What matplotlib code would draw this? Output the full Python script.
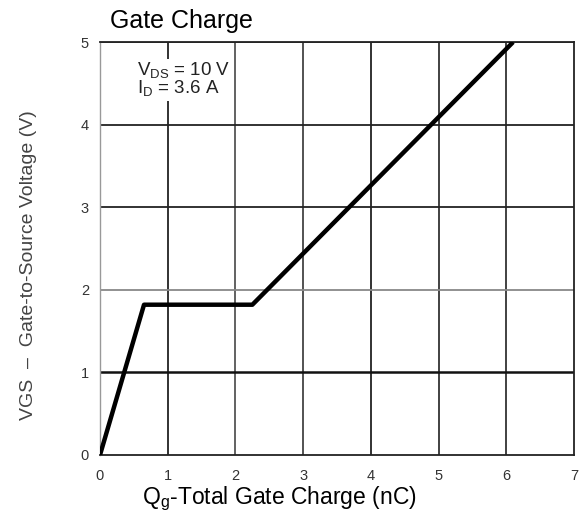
import numpy as np
import matplotlib.pyplot as plt

plt.rc('font', family='Liberation Sans')

# curve breakpoints
qg = [0.0, 0.65, 2.25, 6.1]
vgs = [0.0, 1.82, 1.82, 5.0]

xticks = [0, 1, 2, 3, 4, 5, 6, 7]
yticks = [0, 1, 2, 3, 4, 5]
# grid lines are printed with uneven darkness in the original
xgrid_col = ['#333333', '#222222', '#555555', '#444444', '#222222', '#333333', '#333333']
ygrid_col = ['#111111', '#111111', '#888888', '#222222', '#222222', '#333333']

fig = plt.figure(figsize=(5.79, 5.2), dpi=100)
ax = fig.add_axes([0.1727, 0.125, 0.8187, 0.794])

for x, c in zip(xticks[1:], xgrid_col[1:]):
    ax.axvline(x, color=c, lw=1.3, zorder=1)
for y, c in zip(yticks[1:], ygrid_col[1:]):
    ax.axhline(y, color=c, lw=1.3 if y != 1 else 1.8, zorder=1)

ax.plot(qg, vgs, color='black', lw=3.2, solid_capstyle='butt', zorder=3)

ax.set_xlim(0, 7)
ax.set_ylim(0, 5)
ax.set_xticks(xticks)
ax.set_yticks(yticks)
ax.tick_params(length=0, labelsize=10.5, labelcolor='#333333')
ax.tick_params(axis='x', pad=10)
ax.tick_params(axis='y', pad=8)
for s in ax.spines.values():
    s.set_color('#222222')
    s.set_linewidth(1.3)
ax.spines['left'].set_color('#999999')
ax.spines['left'].set_linewidth(1.0)

ax.text(0.55, 4.78, 'V$_{\\mathregular{DS}}$ = 10 V\nI$_{\\mathregular{D}}$ = 3.6 A',
        fontsize=13.5, color='#222222', va='top', ha='left', linespacing=0.9,
        bbox=dict(facecolor='white', edgecolor='none', pad=1), zorder=4)

fig.text(0.19, 0.946, 'Gate Charge', fontsize=18, ha='left', va='baseline')
fig.text(0.482, 0.03, 'Q$_{\\mathregular{g}}$-Total Gate Charge (nC)', fontsize=16.5,
         ha='center', va='baseline')
fig.text(0.05, 0.49, 'VGS  \u2013  Gate-to-Source Voltage (V)', fontsize=14,
         color='#444444', rotation=90, ha='center', va='center')

fig.savefig('out.png', dpi=100)
